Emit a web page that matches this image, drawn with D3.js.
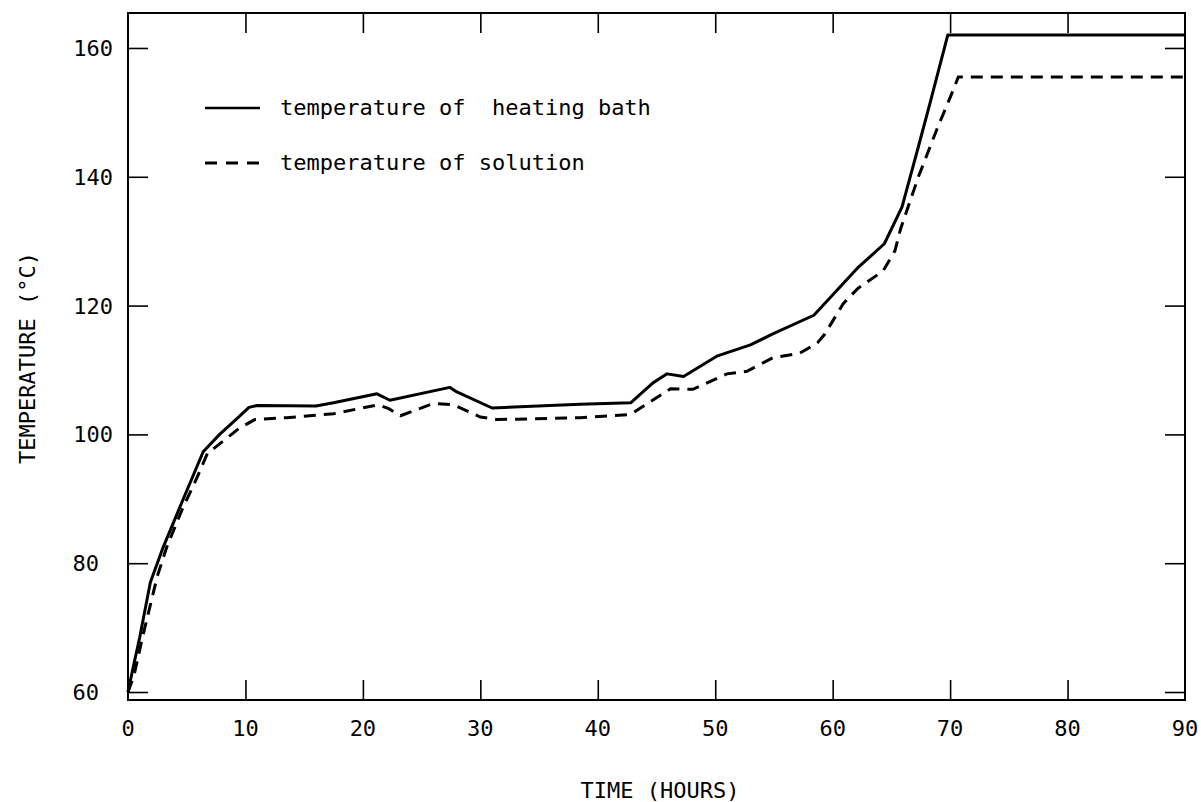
<!DOCTYPE html>
<html>
<head>
<meta charset="utf-8">
<script src="https://cdn.jsdelivr.net/npm/d3@7"></script>
<style>
  html, body { margin: 0; padding: 0; background: #fff; }
  svg { display: block; }
  text { font-family: "DejaVu Sans Mono", monospace; fill: #000; white-space: pre; }
</style>
</head>
<body>
<svg id="chart" width="1201" height="802"></svg>
<script>
// ---- data ----
const bathTime = [0, 0.4, 1, 1.9, 3.0, 4.6, 6.4, 7.8, 9.3, 10.3, 11, 16, 17.5, 21.2, 22.3, 27.4, 28, 31, 38.5, 42.8, 44.7, 45.9, 47.3, 50.2, 53, 54.9, 58.4, 62.1, 64.4, 65.9, 67.2, 68.3, 69.8, 90];
const bathTemp = [60, 63.5, 68.5, 77, 82.5, 89.5, 97.3, 100, 102.5, 104.2, 104.5, 104.4, 104.9, 106.3, 105.3, 107.3, 106.6, 104.1, 104.7, 104.9, 108, 109.4, 109, 112.2, 113.9, 115.6, 118.5, 125.8, 129.6, 135.3, 144, 151.5, 162, 162];

const solTime = [0, 0.5, 1.3, 2.5, 3.3, 4.6, 5.9, 6.8, 7.3, 9.5, 10.8, 13.5, 17.5, 21.3, 22.2, 23.2, 26, 27.7, 30, 31.4, 38.5, 42.8, 46.2, 48.1, 51, 52.7, 54.9, 57.2, 58.7, 59.3, 60.9, 62.1, 64.3, 65.3, 65.8, 67.3, 68.9, 70, 70.7, 90];
const solTemp = [60, 62.5, 69, 78, 82.5, 88.3, 93.4, 97.2, 97.8, 101, 102.3, 102.6, 103.2, 104.6, 104, 102.9, 104.8, 104.6, 102.7, 102.3, 102.6, 103.1, 107.1, 107, 109.4, 109.8, 111.9, 112.6, 114.2, 115.5, 120.3, 122.6, 125.4, 128.5, 132, 140, 147.5, 152.3, 155.5, 155.5];

const xTicks = [0, 10, 20, 30, 40, 50, 60, 70, 80, 90];
const yTicks = [60, 80, 100, 120, 140, 160];
const xDomain = [0, 90];
const yDomain = [58.76, 165.43];
const legendLabels = ["temperature of  heating bath", "temperature of solution"];
const xTitle = "TIME (HOURS)";
const yTitle = "TEMPERATURE (°C)";

// ---- layout ----
const L = 128, R = 1185, T = 13, B = 700;
const svg = d3.select("#chart");
const x = d3.scaleLinear().domain(xDomain).range([L, R]);
const y = d3.scaleLinear().domain(yDomain).range([B, T]);

// frame
svg.append("rect").attr("x", L).attr("y", T).attr("width", R - L).attr("height", B - T)
  .attr("fill", "none").attr("stroke", "#000").attr("stroke-width", 2);

// inward ticks on all four sides, using d3 axes
const tk = 20;
const axB = svg.append("g").attr("transform", `translate(0,${B})`)
  .call(d3.axisTop(x).tickValues(xTicks.slice(1, -1)).tickSize(tk).tickFormat(""));
const axT = svg.append("g").attr("transform", `translate(0,${T})`)
  .call(d3.axisBottom(x).tickValues(xTicks.slice(1, -1)).tickSize(tk).tickFormat(""));
const axL = svg.append("g").attr("transform", `translate(${L},0)`)
  .call(d3.axisRight(y).tickValues(yTicks).tickSize(tk).tickFormat(""));
const axR = svg.append("g").attr("transform", `translate(${R},0)`)
  .call(d3.axisLeft(y).tickValues(yTicks).tickSize(tk).tickFormat(""));
[axB, axT, axL, axR].forEach(g => {
  g.select(".domain").remove();
  g.selectAll("line").attr("stroke", "#000").attr("stroke-width", 1.6);
});

// tick labels
svg.append("g").selectAll("text").data(xTicks).join("text")
  .attr("x", d => x(d)).attr("y", B + 36)
  .attr("text-anchor", "middle").attr("font-size", 22).text(d => d);
svg.append("g").selectAll("text").data(yTicks).join("text")
  .attr("x", d => d >= 100 ? 113 : 99).attr("y", d => y(d) + 8)
  .attr("text-anchor", "end").attr("font-size", 22).text(d => d);

// axis titles
svg.append("text").attr("x", 660).attr("y", 798).attr("text-anchor", "middle")
  .attr("font-size", 22).text(xTitle);
svg.append("text").attr("transform", `translate(35,358) rotate(-90)`)
  .attr("text-anchor", "middle").attr("font-size", 22).text(yTitle);

// lines
const line = d3.line().x(d => x(d[0])).y(d => y(d[1]));
const bath = bathTime.map((t, i) => [t, bathTemp[i]]);
const sol = solTime.map((t, i) => [t, solTemp[i]]);
svg.append("path").datum(bath).attr("d", line)
  .attr("fill", "none").attr("stroke", "#000").attr("stroke-width", 3).attr("stroke-linejoin", "round");
svg.append("path").datum(sol).attr("d", line)
  .attr("fill", "none").attr("stroke", "#000").attr("stroke-width", 3)
  .attr("stroke-dasharray", "12,8");

// legend
const lg = svg.append("g");
lg.append("line").attr("x1", 205).attr("x2", 260).attr("y1", 108).attr("y2", 108)
  .attr("stroke", "#000").attr("stroke-width", 2.5);
lg.append("line").attr("x1", 205).attr("x2", 263).attr("y1", 163).attr("y2", 163)
  .attr("stroke", "#000").attr("stroke-width", 3).attr("stroke-dasharray", "12,9");
lg.selectAll("text").data(legendLabels).join("text")
  .attr("x", 280).attr("y", (d, i) => 115 + i * 55)
  .attr("font-size", 22).text(d => d);
</script>
</body>
</html>
